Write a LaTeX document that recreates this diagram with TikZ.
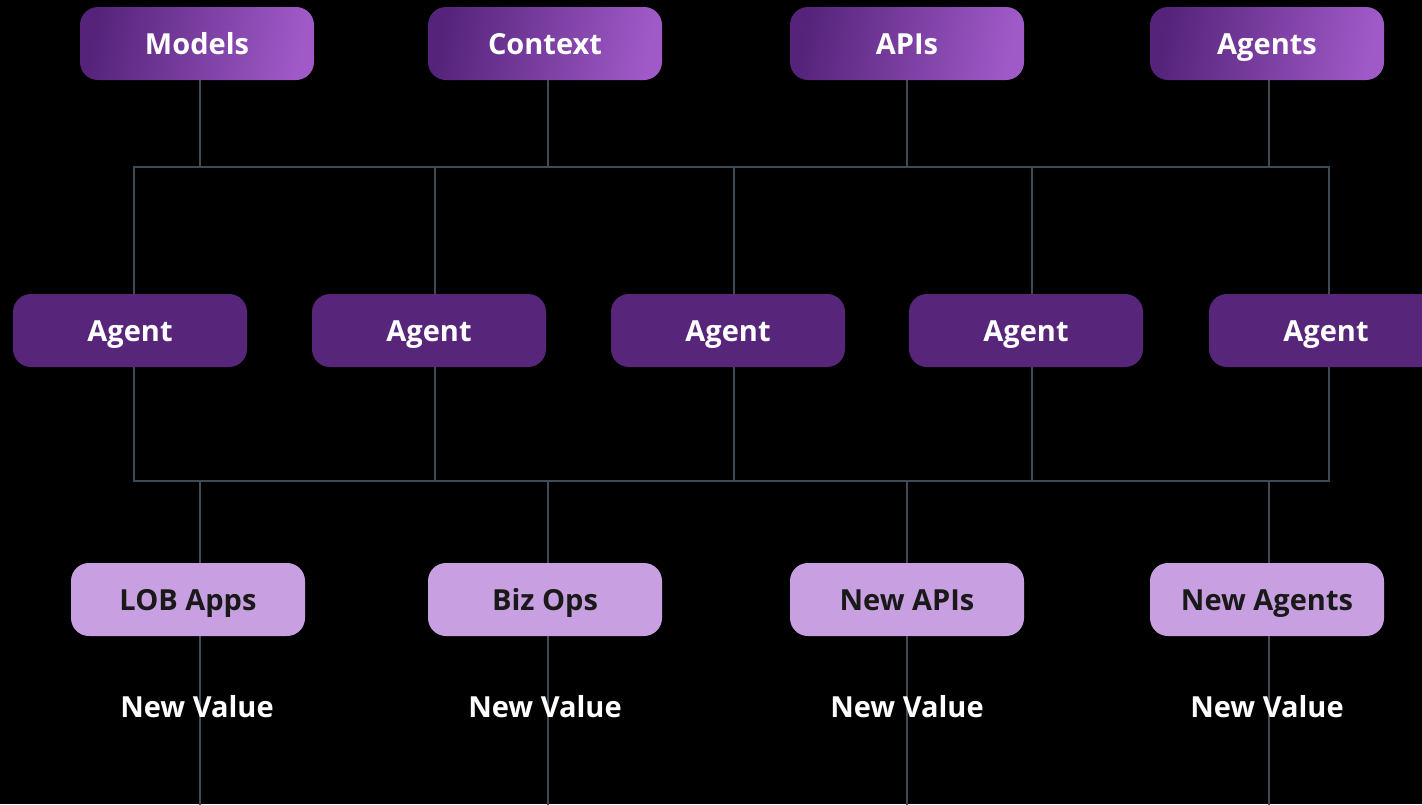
\documentclass[tikz,border=0pt]{standalone}
\usepackage{fontspec}
\setmainfont{Open Sans}
\definecolor{topl}{HTML}{55237A}
\definecolor{topr}{HTML}{A05AC8}
\definecolor{agentc}{HTML}{57267A}
\definecolor{botc}{HTML}{C8A0E2}
\definecolor{linec}{HTML}{3E4A54}
\pgfdeclarelayer{bg}
\pgfdeclarelayer{lines}
\pgfsetlayers{bg,lines,main}
\tikzset{
  boxbase/.style={rounded corners=18pt, minimum width=234pt, minimum height=73pt, inner sep=0pt, text height=22pt, text depth=0pt, font=\fontsize{29}{32}\selectfont\bfseries},
  topbox/.style={boxbase, left color=topl, right color=topr, shading angle=80, text=white},
  agentbox/.style={boxbase, fill=agentc, text=white},
  botbox/.style={boxbase, fill=botc, text=black!90},
  valtext/.style={font=\fontsize{29}{32}\selectfont\bfseries, text=white, inner sep=0pt},
  wire/.style={draw=linec, line width=2.5pt},
}
\begin{document}
\begin{tikzpicture}[x=1pt,y=-1pt]
\begin{pgfonlayer}{bg}
\fill[black] (0,0) rectangle (1422,804);
\end{pgfonlayer}
\useasboundingbox (0,0) rectangle (1422,804);
% top boxes
\node[topbox] (m) at (197,43.5) {Models};
\node[topbox] (c) at (545,43.5) {Context};
\node[topbox] (p) at (907,43.5) {APIs};
\node[topbox] (g) at (1267,43.5) {Agents};
% agents
\node[agentbox] (a1) at (130,330.5) {Agent};
\node[agentbox] (a2) at (429,330.5) {Agent};
\node[agentbox] (a3) at (728,330.5) {Agent};
\node[agentbox] (a4) at (1026,330.5) {Agent};
\node[agentbox] (a5) at (1326,330.5) {Agent};
% bottom boxes
\node[botbox] (b1) at (188,599.5) {LOB Apps};
\node[botbox] (b2) at (545,599.5) {Biz Ops};
\node[botbox] (b3) at (907,599.5) {New APIs};
\node[botbox] (b4) at (1267,599.5) {New Agents};
% values
\node[valtext] (v1) at (197,707) {New Value};
\node[valtext] (v2) at (545,707) {New Value};
\node[valtext] (v3) at (907,707) {New Value};
\node[valtext] (v4) at (1267,707) {New Value};
% junction coordinates
\coordinate (t1) at (200,167);
\coordinate (t2) at (548,167);
\coordinate (t3) at (907,167);
\coordinate (t4) at (1269,167);
\coordinate (u1) at (134,167);
\coordinate (u2) at (435,167);
\coordinate (u3) at (734,167);
\coordinate (u4) at (1032,167);
\coordinate (u5) at (1329,167);
\coordinate (d1) at (134,481);
\coordinate (d2) at (435,481);
\coordinate (d3) at (734,481);
\coordinate (d4) at (1032,481);
\coordinate (d5) at (1329,481);
\coordinate (e1) at (200,481);
\coordinate (e2) at (548,481);
\coordinate (e3) at (907,481);
\coordinate (e4) at (1269,481);
\coordinate (f1) at (200,805);
\coordinate (f2) at (548,805);
\coordinate (f3) at (907,805);
\coordinate (f4) at (1269,805);
\begin{pgfonlayer}{lines}
\draw[wire] (m.south -| t1) -- (t1);
\draw[wire] (c.south -| t2) -- (t2);
\draw[wire] (p.south -| t3) -- (t3);
\draw[wire] (g.south -| t4) -- (t4);
\draw[wire, line cap=rect] (u1) -- (u5);
\draw[wire] (u1) -- (a1.north -| u1);
\draw[wire] (u2) -- (a2.north -| u2);
\draw[wire] (u3) -- (a3.north -| u3);
\draw[wire] (u4) -- (a4.north -| u4);
\draw[wire] (u5) -- (a5.north -| u5);
\draw[wire] (a1.south -| d1) -- (d1);
\draw[wire] (a2.south -| d2) -- (d2);
\draw[wire] (a3.south -| d3) -- (d3);
\draw[wire] (a4.south -| d4) -- (d4);
\draw[wire] (a5.south -| d5) -- (d5);
\draw[wire, line cap=rect] (d1) -- (d5);
\draw[wire] (e1) -- (f1);
\draw[wire] (e2) -- (f2);
\draw[wire] (e3) -- (f3);
\draw[wire] (e4) -- (f4);
\end{pgfonlayer}
\end{tikzpicture}
\end{document}
